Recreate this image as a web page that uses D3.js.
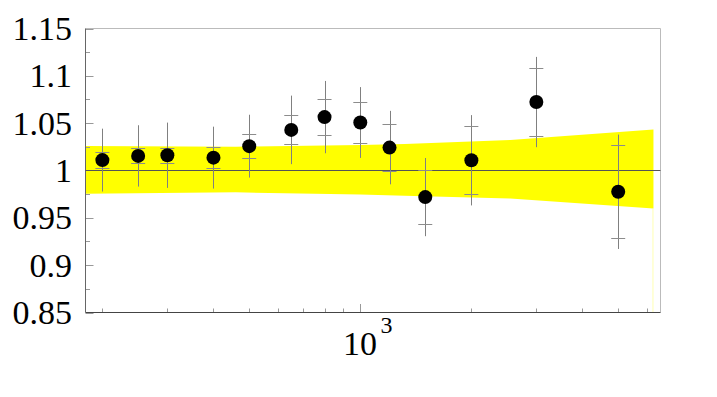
<!DOCTYPE html>
<html>
<head>
<meta charset="utf-8">
<script src="https://cdn.jsdelivr.net/npm/d3@7"></script>
<style>
  body { margin: 0; background: #fff; }
  text { font-family: "Liberation Serif", "DejaVu Serif", serif; fill: #000; }
</style>
</head>
<body>
<svg id="chart"></svg>
<script>
// data points (ratio with inner / total error)
const xVals = [200, 250, 300, 400, 500, 650, 800, 1000, 1200, 1500, 2000, 3000, 5000];
const yVals = [1.011, 1.0154, 1.0161, 1.0136, 1.0257, 1.0429, 1.0564, 1.0507, 1.0242, 0.9719, 1.0108, 1.0723, 0.9775];
const errInner = [0.0083, 0.008, 0.008, 0.0112, 0.0127, 0.0154, 0.0186, 0.0218, 0.0247, 0.0283, 0.0361, 0.0363, 0.0493];
const errTotal = [0.0332, 0.0324, 0.0345, 0.0327, 0.0332, 0.0362, 0.0382, 0.0374, 0.0388, 0.0413, 0.0477, 0.0477, 0.0604];

// yellow band
const bandX = [180, 460, 1000, 1320, 2550, 6230];
const bandHi = [1.026, 1.0252, 1.027, 1.0281, 1.0323, 1.0433];
const bandLo = [0.9754, 0.9769, 0.9747, 0.9733, 0.9703, 0.9598];

const yTicks = [0.85, 0.9, 0.95, 1, 1.05, 1.1, 1.15];
const yMinor = [0.875, 0.925, 0.975, 1.025, 1.075, 1.125];
const xMinor = [200, 300, 400, 500, 600, 700, 800, 900, 2000, 3000, 4000, 5000, 6000];

let width = 717,
    height = 397,
    padL = 85.5,
    padR = 660.5,
    padT = 28.5,
    padB = 312.5;

let svg = d3.select("#chart").attr("width", width).attr("height", height);

let x = d3.scaleLog().domain([180, 6510]).range([padL, padR]);
let y = d3.scaleLinear().domain([0.85, 1.15]).range([padB, padT]);

// band
let band = bandX.map((d, i) => ({ x: d, hi: bandHi[i], lo: bandLo[i] }));
svg.append("path")
    .datum(band)
    .attr("fill", "#ffff00")
    .attr("d", d3.area().x(d => x(d.x)).y0(d => y(d.lo)).y1(d => y(d.hi)));

// thin leftover edge of the band down to the axis
svg.append("line")
    .attr("x1", x(bandX[bandX.length - 1]) - 0.5).attr("x2", x(bandX[bandX.length - 1]) - 0.5)
    .attr("y1", y(bandLo[bandLo.length - 1])).attr("y2", padB)
    .attr("stroke", "#ffff80").attr("stroke-width", 1).attr("opacity", 0.6);

// frame
svg.append("line").attr("x1", padL).attr("x2", padR).attr("y1", padT).attr("y2", padT)
    .attr("stroke", "#bbb");
svg.append("line").attr("x1", padR).attr("x2", padR).attr("y1", padT).attr("y2", padB)
    .attr("stroke", "#bbb");

// y ticks
svg.append("g").selectAll("line").data(yTicks).enter().append("line")
    .attr("x1", padL).attr("x2", padL + 8)
    .attr("y1", d => Math.round(y(d)) + 0.5).attr("y2", d => Math.round(y(d)) + 0.5)
    .attr("stroke", "#999");
svg.append("g").selectAll("line").data(yMinor).enter().append("line")
    .attr("x1", padL).attr("x2", padL + 4.5)
    .attr("y1", d => Math.round(y(d)) + 0.5).attr("y2", d => Math.round(y(d)) + 0.5)
    .attr("stroke", "#999");

// x ticks
svg.append("g").selectAll("line").data(xMinor).enter().append("line")
    .attr("x1", d => Math.round(x(d)) + 0.5).attr("x2", d => Math.round(x(d)) + 0.5)
    .attr("y1", padB).attr("y2", padB - 4)
    .attr("stroke", "#999");
svg.append("line")
    .attr("x1", Math.round(x(1000)) + 0.5).attr("x2", Math.round(x(1000)) + 0.5)
    .attr("y1", padB).attr("y2", padB - 8.5)
    .attr("stroke", "#999");

// axis lines
svg.append("line").attr("x1", padL).attr("x2", padL).attr("y1", padT).attr("y2", padB)
    .attr("stroke", "#666");
svg.append("line").attr("x1", padL).attr("x2", padR).attr("y1", padB).attr("y2", padB)
    .attr("stroke", "#444");

// line at 1
svg.append("line").attr("x1", padL).attr("x2", padR)
    .attr("y1", y(1)).attr("y2", y(1))
    .attr("stroke", "#555").attr("stroke-width", 1);

// y labels
svg.append("g").selectAll("text").data(yTicks).enter().append("text")
    .attr("x", 72)
    .attr("y", d => y(d))
    .attr("dy", "0.34em")
    .attr("text-anchor", "end")
    .attr("font-size", 34)
    .text(d => d3.format("~g")(d));

// x label 10^3
svg.append("text").attr("x", 343).attr("y", 355).attr("font-size", 34).text("10");
svg.append("text").attr("x", 380.5).attr("y", 332.5).attr("font-size", 24).text("3");

// points
let pts = xVals.map((d, i) => ({ x: d, y: yVals[i], e1: errInner[i], e2: errTotal[i] }));

let g = svg.append("g");
g.selectAll(".bar").data(pts).enter().append("line")
    .attr("x1", d => Math.round(x(d.x)) + 0.5).attr("x2", d => Math.round(x(d.x)) + 0.5)
    .attr("y1", d => y(d.y + d.e2)).attr("y2", d => y(d.y - d.e2))
    .attr("stroke", "#808080");
[1, -1].forEach(function (s) {
    g.selectAll(".cap" + s).data(pts).enter().append("line")
        .attr("x1", d => x(d.x) - 7).attr("x2", d => x(d.x) + 7)
        .attr("y1", d => Math.round(y(d.y + s * d.e1)) + 0.5)
        .attr("y2", d => Math.round(y(d.y + s * d.e1)) + 0.5)
        .attr("stroke", "#8c8c8c");
});
g.selectAll("circle").data(pts).enter().append("circle")
    .attr("cx", d => x(d.x))
    .attr("cy", d => y(d.y))
    .attr("r", 7)
    .attr("fill", "#000");
</script>
</body>
</html>
